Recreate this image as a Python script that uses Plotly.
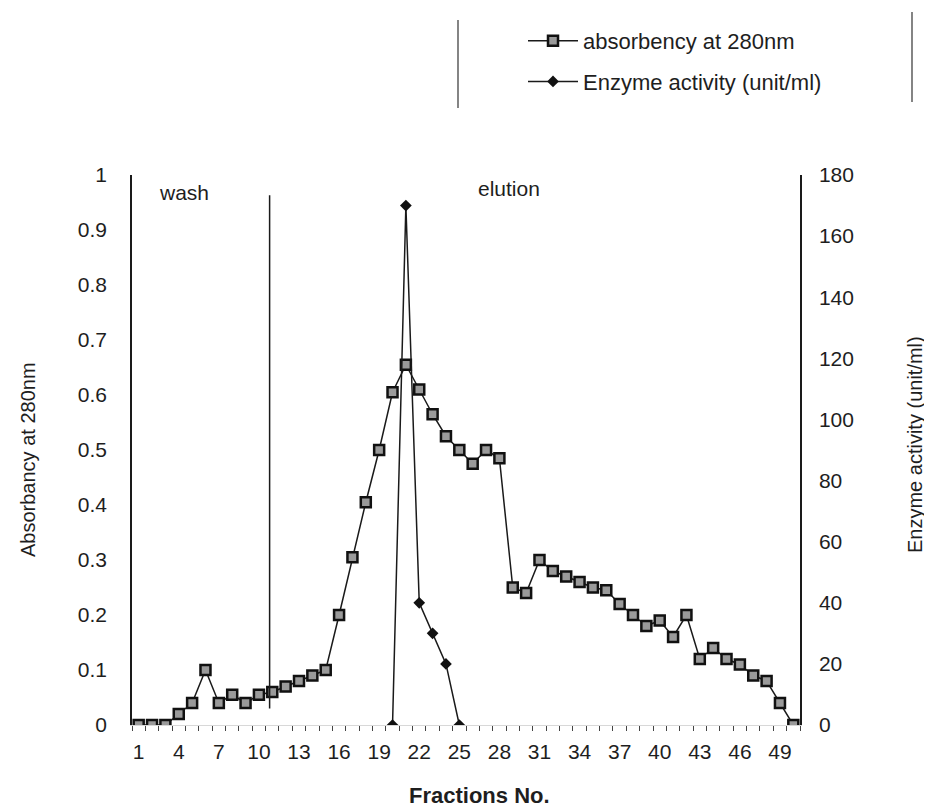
import plotly.graph_objects as go

# ---------------- data ----------------
fractions = list(range(1, 51))
absorbance = [0, 0, 0, 0.02, 0.04, 0.10, 0.04, 0.055, 0.04, 0.055,
              0.06, 0.07, 0.08, 0.09, 0.10, 0.20, 0.305, 0.405, 0.50, 0.605,
              0.655, 0.61, 0.565, 0.525, 0.50, 0.475, 0.50, 0.485, 0.25, 0.24,
              0.30, 0.28, 0.27, 0.26, 0.25, 0.245, 0.22, 0.20, 0.18, 0.19,
              0.16, 0.20, 0.12, 0.14, 0.12, 0.11, 0.09, 0.08, 0.04, 0.0]
enzyme_fractions = [20, 21, 22, 23, 24, 25]
enzyme_activity = [0, 170, 40, 30, 20, 0]

x_tickvals = list(range(1, 51, 3))
left_ticks = [0, 0.1, 0.2, 0.3, 0.4, 0.5, 0.6, 0.7, 0.8, 0.9, 1]
right_ticks = [0, 20, 40, 60, 80, 100, 120, 140, 160, 180]

# wash / elution separator (fraction position, absorbance extent)
sep_x = 10.8
sep_y = [0.03, 0.963]

# ---------------- layout geometry ----------------
OFF = 8                      # page body margin
W, H = 932 - OFF, 810 - OFF
L, T = 124, 167
PW, PH = 668, 550
R, B = W - L - PW, H - T - PH


def px(x):
    """page pixel x -> paper"""
    return (x - OFF - L) / PW


def py(y):
    """page pixel y -> paper"""
    return (H - B - (y - OFF)) / PH


FONT = "Liberation Sans, Arial, sans-serif"
TXT = "#1e1e1e"

fig = go.Figure()

fig.add_trace(go.Scatter(
    x=fractions, y=absorbance, name="absorbency at 280nm",
    mode="lines+markers", legendgroup="a",
    line=dict(color="#1a1a1a", width=1.5),
    marker=dict(symbol="square", size=10, color="#9a9a9a",
                line=dict(color="#111", width=2.5)),
    yaxis="y",
))

fig.add_trace(go.Scatter(
    x=enzyme_fractions, y=enzyme_activity, name="Enzyme activity (unit/ml)",
    mode="lines+markers", legendgroup="b",
    line=dict(color="#1a1a1a", width=1.5),
    marker=dict(symbol="diamond", size=9, color="#111"),
    yaxis="y2",
))

fig.add_shape(type="line", xref="x", yref="y", x0=sep_x, x1=sep_x,
              y0=sep_y[0], y1=sep_y[1], line=dict(color="#1a1a1a", width=1.5))

# partial legend-box borders visible in the scan
fig.add_shape(type="line", xref="paper", yref="paper",
              x0=px(458), x1=px(458), y0=py(20), y1=py(108),
              line=dict(color="#333", width=1.2))
fig.add_shape(type="line", xref="paper", yref="paper",
              x0=px(912), x1=px(912), y0=py(12), y1=py(102),
              line=dict(color="#333", width=1.2))


def label(text, x, y, size, angle=0):
    fig.add_annotation(text=text, xref="paper", yref="paper",
                       x=px(x), y=py(y), xanchor="center", yanchor="middle",
                       showarrow=False, textangle=angle,
                       font=dict(size=size, color=TXT, family=FONT))


label("wash", 184, 192, 21)
label("elution", 509, 188, 21)
label("Absorbancy at 280nm", 28, 460, 20, -90)
label("Enzyme activity (unit/ml)", 915, 445, 20, -90)
label("<b>Fractions No.</b>", 479, 795, 22)

fig.update_layout(
    width=W, height=H,
    margin=dict(l=L, r=R, t=T, b=B, autoexpand=False),
    paper_bgcolor="white", plot_bgcolor="white",
    font=dict(family=FONT, color=TXT, size=21),
    showlegend=True,
    legend=dict(x=px(523), y=py(20), xanchor="left", yanchor="top",
                itemwidth=50, tracegroupgap=9,
                font=dict(size=22, color=TXT, family=FONT),
                bgcolor="rgba(0,0,0,0)"),
    xaxis=dict(range=[0.5, 50.5], tickvals=x_tickvals,
               ticks="", showgrid=False, zeroline=False,
               showline=True, linecolor="#d8d8d8", linewidth=1,
               ticklabelstandoff=8,
               minor=dict(dtick=1, tick0=0.5, ticks="outside", ticklen=5,
                          tickcolor="#444", tickwidth=1),
               tickfont=dict(size=21)),
    yaxis=dict(range=[0, 1], tickvals=left_ticks,
               ticktext=[("%g" % v) for v in left_ticks],
               showgrid=False, zeroline=False, showline=True,
               linecolor="#1a1a1a", linewidth=1.5, ticks="",
               ticklabelstandoff=19, tickfont=dict(size=21)),
    yaxis2=dict(range=[0, 180], tickvals=right_ticks, overlaying="y",
                side="right", showgrid=False, zeroline=False, showline=True,
                linecolor="#1a1a1a", linewidth=1.5, ticks="",
                ticklabelstandoff=13, tickfont=dict(size=21)),
)

fig.write_html("out.html")
